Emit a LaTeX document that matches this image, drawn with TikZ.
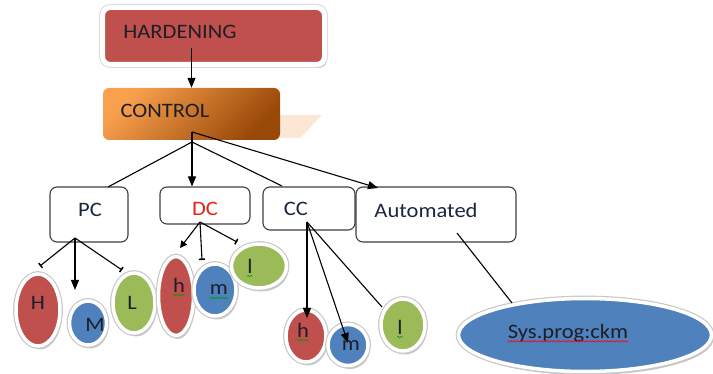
\documentclass[tikz,border=0pt]{standalone}
\usepackage{fontspec}
\setmainfont{Carlito}[FakeStretch=1.1]
\usetikzlibrary{arrows.meta,shapes.geometric,decorations.pathmorphing,shadows}
\definecolor{hred}{HTML}{C0504D}
\definecolor{hblue}{HTML}{4F81BD}
\definecolor{hgreen}{HTML}{9BBB59}
\definecolor{orA}{HTML}{F9A04E}
\definecolor{orB}{HTML}{984807}
\definecolor{orS}{HTML}{FCE6D4}
\definecolor{ink}{HTML}{1E1E28}
\definecolor{navy}{HTML}{1C2540}
\definecolor{dcred}{HTML}{E8201C}
\begin{document}
\begin{tikzpicture}[x=1pt,y=-1pt,
  font=\fontsize{20.5}{24}\selectfont,
  txt/.style={inner sep=0pt, text=ink},
  blob/.style={ellipse, inner sep=0pt, draw=white, line width=3.5pt, fill=#1,
    drop shadow={shadow xshift=2pt, shadow yshift=-3.5pt, opacity=0.22, fill=black},
    preaction={draw=black!22, line width=5.8pt}},
  boxw/.style={draw=black!75, line width=1.1pt, rounded corners=7pt, fill=white, inner sep=0pt},
  con/.style={draw=black, line width=1.1pt},
  arr/.style={con, -{Triangle[length=10pt,width=8pt]}},
  sarr/.style={con, -{Triangle[length=7pt,width=7pt]}},
  bartip/.style={con, -{Bar[width=6pt,line width=1.6pt]}},
  wavy/.style={draw=#1, line width=0.6pt, decorate, decoration={snake, amplitude=0.8pt, segment length=3pt}}
]
\useasboundingbox[fill=white] (0,0) rectangle (713,374);

% top boxes
\node[rectangle, rounded corners=8pt, minimum width=222pt, minimum height=57pt, inner sep=0pt,
  fill=hred, draw=white, line width=5pt,
  drop shadow={shadow xshift=2.5pt, shadow yshift=-3.5pt, opacity=0.2, fill=black},
  preaction={draw=black!15, line width=7pt}] (hard) at (213.5,36) {};
\node[txt] (hardT) at (180,32) {HARDENING};

\fill[orS] (280,115) -- (322,115) -- (300,138) -- (280,138) -- cycle;
\node[rectangle, rounded corners=6pt, minimum width=177pt, minimum height=52pt, inner sep=0pt,
  top color=orA, bottom color=orB, shading angle=45] (ctl) at (191.5,114) {};
\node[txt] (ctlT) at (165,111) {CONTROL};

% second row boxes
\node[boxw, minimum width=78pt, minimum height=55pt] (pc) at (89,214.5) {};
\node[boxw, minimum width=90pt, minimum height=37pt] (dc) at (205,205.5) {};
\node[boxw, minimum width=92pt, minimum height=43pt] (cc) at (309,208.5) {};
\node[boxw, minimum width=160pt, minimum height=55pt] (auto) at (436,214.5) {};
\node[txt, text=navy] (pcT) at (90,210) {PC};
\node[txt, text=dcred] (dcT) at (205,209) {DC};
\node[txt, text=navy] (ccT) at (296,209) {CC};
\node[txt, text=navy] (autoT) at (426,210) {Automated};

% ellipses
\node[blob=hred, minimum width=44pt, minimum height=72pt] (H) at (38,310) {};
\node[blob=hblue, minimum width=37pt, minimum height=44pt] (M) at (88,323) {};
\node[blob=hgreen, minimum width=42pt, minimum height=60pt] (L) at (134,303) {};
\node[blob=hred, minimum width=35pt, minimum height=79pt] (hD) at (176,296) {};
\node[blob=hblue, minimum width=42pt, minimum height=52pt] (mD) at (215,290) {};
\node[blob=hgreen, minimum width=55pt, minimum height=44pt] (lD) at (259,266) {};
\node[blob=hred, minimum width=40pt, minimum height=52pt] (hC) at (306,336) {};
\node[blob=hblue, minimum width=40pt, minimum height=41pt] (mC) at (348,345) {};
\node[blob=hgreen, minimum width=44pt, minimum height=52pt] (lC) at (403,325) {};
\node[blob=hblue, minimum width=253pt, minimum height=73pt] (sys) at (585,335) {};

% connector anchor points
\coordinate (hA) at (191.5,48);
\coordinate (ca) at (192,132);
\coordinate (cb) at (192,142);
\coordinate (pcIn) at (108,187);
\coordinate (ccIn) at (282,186);
\coordinate (autoIn) at (378,188);
\coordinate (pcO) at (75,238);
\coordinate (Hin) at (40,266);
\coordinate (Min) at (75,290);
\coordinate (Lin) at (122,270);
\coordinate (dcO) at (200,222);
\coordinate (hDin) at (180,248);
\coordinate (mDin) at (202,260);
\coordinate (lDin) at (237,242);
\coordinate (ccO) at (307,222);
\coordinate (hCin) at (307,318);
\coordinate (mCin) at (348,343);
\coordinate (lCin) at (382,307);
\coordinate (autoO) at (457,233);
\coordinate (sysIn) at (512,303);

% connectors
\draw[arr] (hA) -- (ctl.north);
\draw[arr] (ca) -- (ca |- dc.north);
\draw[arr] (ca) -- (autoIn);
\draw[con] (cb) -- (pcIn);
\draw[con] (cb) -- (ccIn);
\draw[bartip] (pcO) -- (Hin);
\draw[arr] (pcO) -- (Min);
\draw[bartip] (pcO) -- (Lin);
\draw[sarr] (dcO) -- (hDin);
\draw[bartip] (dcO) -- (mDin);
\draw[bartip] (dcO) -- (lDin);
\draw[arr] (ccO) -- (hCin);
\draw[arr] (ccO) -- (mCin);
\draw[con] (ccO) -- (lCin);
\draw[con] (autoO) -- (sysIn);

% ellipse texts
\node[txt] (HT) at (38,303) {H};
\node[txt] (MT) at (95,325) {M};
\node[txt] (LT) at (132,303) {L};
\node[txt] (hDT) at (179,285) {h};
\node[txt] (mDT) at (219,290) {m};
\node[txt] (lDT) at (250,266) {l};
\node[txt] (hCT) at (303,330) {h};
\node[txt] (mCT) at (351,346) {m};
\node[txt] (lCT) at (400,327) {l};
\node[txt] (sysT) at (568,333) {Sys.prog:ckm};

% wavy underlines
\foreach \t in {hDT,mDT,lDT,hCT,lCT}{
  \draw[wavy=green!60!black] ([yshift=-3pt]\t.base west) -- ([yshift=-3pt]\t.base east);
}
\draw[wavy=red] ([yshift=-3pt]sysT.base west) -- ([yshift=-3pt]sysT.base east);
\end{tikzpicture}
\end{document}
